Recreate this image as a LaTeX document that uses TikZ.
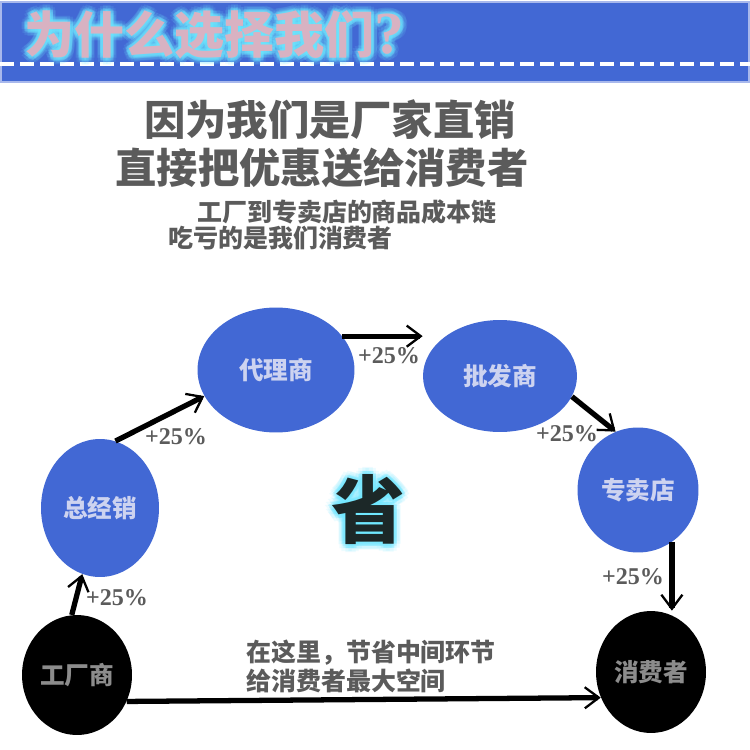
\documentclass[tikz,border=0pt]{standalone}
\usepackage{fontspec}
\usepackage{xcolor}
\usepackage{tikz}
\usetikzlibrary{shapes.geometric, arrows.meta}
\newfontfamily\cjk{Noto Sans CJK SC}
\newfontfamily\ratefont{Liberation Serif}
\definecolor{bandblue}{HTML}{4268D4}
\definecolor{bandedge}{HTML}{A8B8EC}
\definecolor{titlepink}{HTML}{D8B2C2}
\definecolor{glowcyan}{HTML}{6FE8FF}
\definecolor{nodetext}{HTML}{CDD3F0}
\definecolor{graytext}{HTML}{5B5B5B}
\definecolor{darktext}{HTML}{8C8C8C}
\definecolor{savedark}{HTML}{1C2828}
\tikzstyle{bluenode} = [ellipse, 
inner sep=0pt, 
fill=bandblue, 
text=nodetext, 
font=\cjk\bfseries\fontsize{14}{14}\selectfont]
\tikzstyle{blacknode} = [ellipse, 
inner sep=0pt, 
fill=black, 
text=darktext, 
font=\cjk\bfseries\fontsize{14}{14}\selectfont]
\tikzstyle{headline} = [inner sep=0pt, 
text=graytext, 
font=\cjk\bfseries\fontsize{23.5}{23.5}\selectfont]
\tikzstyle{note} = [inner sep=0pt, 
text=graytext, 
font=\cjk\bfseries\fontsize{14.2}{16}\selectfont]
\tikzstyle{rate} = [inner sep=0pt, 
text=graytext, 
font=\ratefont\bfseries\fontsize{13.7}{13.7}\selectfont]
\tikzstyle{titletext} = [inner sep=0pt, 
anchor=base west, 
font=\cjk\bfseries\fontsize{28.5}{28.5}\selectfont]
\tikzstyle{savetext} = [inner sep=0pt, 
font=\cjk\bfseries\fontsize{42}{42}\selectfont]
\tikzstyle{arrow} = [line width=3pt, -{Straight Barb[length=8pt,width=12pt,line width=1.3pt]}]
\newcommand{\titlestring}{为什么选择我们{\ratefont\bfseries\fontsize{34}{34}\selectfont ?}}

\begin{document}
\begin{tikzpicture}[x=0.02cm, y=-0.02cm]
\useasboundingbox (0,0) rectangle (750,750);
\fill[white] (0,0) rectangle (750,750);

% header band
\fill[bandblue] (0,2) rectangle (750,82);
\draw[bandedge, line width=0.6pt] (1,2) rectangle (749,82);
\draw[white, line width=0.08cm, dash pattern=on 0.28cm off 0.12cm] (0,64) -- (750,64);
\foreach \a in {0,30,...,330} {
  \node (glowa\a) [titletext, text=glowcyan, opacity=0.12, shift={(\a:3.5pt)}] at (24,54) {\titlestring};
  \node (glowb\a) [titletext, text=glowcyan, opacity=0.25, shift={(\a:1.8pt)}] at (24,54) {\titlestring};
}
\node (title) [titletext, text=titlepink] at (24,54) {\titlestring};

% slogans
\node (slogan1) [headline] at (330,120) {因为我们是厂家直销};
\node (slogan2) [headline] at (322,168) {直接把优惠送给消费者};
\node (note1) [note, anchor=west] at (197,212) {工厂到专卖店的商品成本链};
\node (note2) [note, anchor=west] at (168,238) {吃亏的是我们消费者};

% chain
\node (zjx) [bluenode, minimum width=2.36cm, minimum height=2.76cm] at (100,508) {总经销};
\node (dls) [bluenode, minimum width=3.14cm, minimum height=2.50cm] at (276,370) {代理商};
\node (pfs) [bluenode, minimum width=3.08cm, minimum height=2.24cm] at (500,376) {批发商};
\node (zmd) [bluenode, minimum width=2.42cm, minimum height=2.50cm] at (638,490) {专卖店};
\node (gcs) [blacknode, minimum width=2.20cm, minimum height=2.40cm] at (77,675) {工厂商};
\node (xfz) [blacknode, minimum width=2.20cm, minimum height=2.44cm] at (651,672) {消费者};

\draw [arrow] (gcs.95) -- (zjx.255);
\draw [arrow] (zjx.77) -- (dls.200);
\draw [arrow] (dls.27) -- (dls.27 -| pfs.west);
\draw [arrow] (pfs.344) -- (zmd.111);
\draw [arrow] (zmd.303) -- (zmd.303 |- xfz.north);
\draw [arrow] (gcs.332) -- (xfz.207);

\node (rate1) [rate] at (117,598) {+25\%};
\node (rate2) [rate] at (176,437) {+25\%};
\node (rate3) [rate] at (389,356) {+25\%};
\node (rate4) [rate] at (567,434) {+25\%};
\node (rate5) [rate] at (633,577) {+25\%};

% centre mark
\foreach \a in {0,30,...,330} {
  \node (savea\a) [savetext, text=glowcyan, opacity=0.12, shift={(\a:4pt)}] at (368,510) {省};
  \node (saveb\a) [savetext, text=glowcyan, opacity=0.25, shift={(\a:2pt)}] at (368,510) {省};
}
\node (save) [savetext, text=savedark] at (368,510) {省};

\node (saving) [note, anchor=north west, align=left] at (246,640) {在这里，节省中间环节\\给消费者最大空间};

\end{tikzpicture}
\end{document}
